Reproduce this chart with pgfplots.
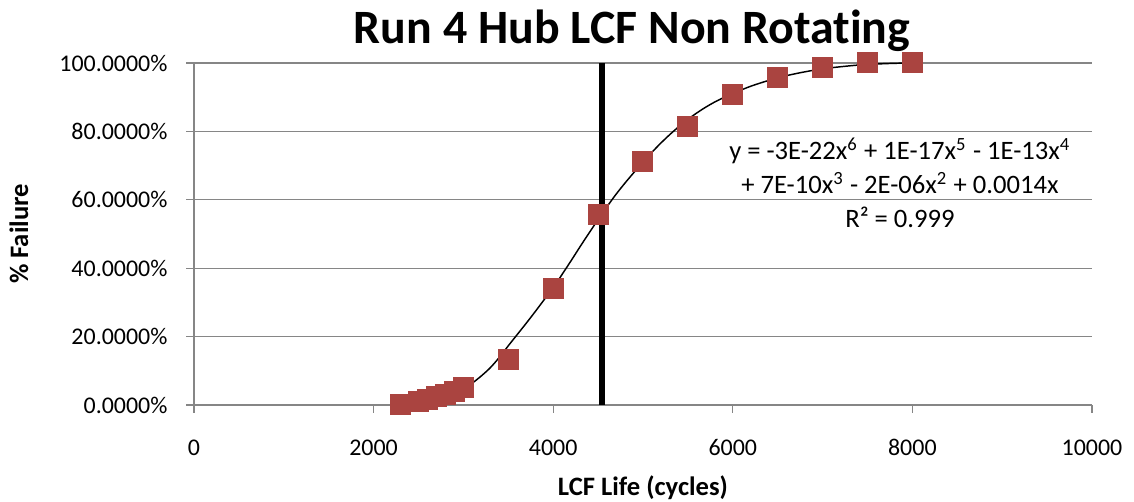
\documentclass[border=0pt]{standalone}
\usepackage{pgfplots}
\pgfplotsset{compat=1.18}
\usepackage{fontspec}
\setmainfont{Carlito}[Ligatures=NoCommon]
\definecolor{mk}{RGB}{170,68,64}
\definecolor{gridgray}{RGB}{134,134,134}
\begin{document}
\begin{tikzpicture}
\path[use as bounding box] (-72.94pt,-36.47pt) rectangle (353.46pt,152.28pt);
\begin{axis}[
  at={(0pt,0pt)}, anchor=south west,
  scale only axis, width=337.65pt, height=128.59pt,
  xmin=0, xmax=10000, ymin=0, ymax=100,
  clip=false,
  scaled x ticks=false, scaled y ticks=false,
  axis lines*=left,
  axis line style={gridgray, line width=0.5pt, -},
  tick align=outside, major tick length=3pt,
  tick style={gridgray, line width=0.5pt},
  ymajorgrids, grid style={gridgray, line width=0.5pt},
  xtick={0,2000,4000,6000,8000,10000},
  xticklabels={0,2000,4000,6000,8000,10000},
  ytick={0,20,40,60,80,100},
  yticklabels={0.0000\%,20.0000\%,40.0000\%,60.0000\%,80.0000\%,100.0000\%},
  ticklabel style={font=\fontsize{9}{11}\selectfont, text=black},
  yticklabel style={inner sep=0pt, xshift=-6.78pt},
  xticklabel style={inner sep=0pt, anchor=north, yshift=-9.8pt},
  xlabel={LCF Life (cycles)},
  ylabel={\% Failure},
  xlabel style={at={(axis description cs:0.5,-0.2427)}, anchor=center, font=\fontsize{10}{12}\selectfont\bfseries},
  ylabel style={at={(axis description cs:-0.1949,0.5)}, anchor=center, font=\fontsize{10}{12}\selectfont\bfseries},
  every axis title shift=0pt,
  title={Run 4 Hub LCF Non Rotating},
  title style={at={(axis description cs:0.4878,1.0556)}, anchor=base, inner sep=0pt, font=\fontsize{18}{22}\selectfont\bfseries},
]
% vertical reference line
\addplot[black, line width=2.3pt, forget plot] coordinates {(4540,0) (4540,100)};
% data points
\addplot[only marks, mark=square*, mark size=3.76pt, mark options={fill=mk, draw=mk, line width=0pt}] coordinates {
(2300,0) (2500,1.0) (2600,1.7) (2700,2.4) (2800,3.2) (2900,3.8) (3000,5.0)
(3500,13.4) (4000,34.1) (4500,55.8) (5000,71.3) (5500,81.4) (6000,90.8)
(6500,95.9) (7000,98.7) (7500,100) (8000,100)
};
% trendline
\addplot[black, line width=0.55pt, smooth, no markers] coordinates {
(2300,1.3) (2400,0.6) (2500,0.3) (2600,0.4) (2700,0.9) (2800,1.8) (2900,3.0)
(3000,4.6) (3100,6.4) (3200,8.5) (3300,10.9) (3400,13.9) (3500,17.3) (3600,20.6)
(3700,23.9) (3800,27.3) (3900,30.8) (4000,34.3) (4100,38.2) (4200,42.2) (4300,46.3)
(4400,50.3) (4500,54.2) (4600,58.0) (4700,61.6) (4800,64.9) (4900,68.0) (5000,71.0)
(5100,73.9) (5200,76.6) (5300,79.1) (5400,81.4) (5500,83.5) (5600,85.4) (5700,87.1)
(5800,88.6) (5900,89.9) (6000,91.1) (6200,93.2) (6400,94.9) (6600,96.3) (6800,97.4)
(7000,98.3) (7200,98.9) (7400,99.4) (7600,99.7) (7800,99.9) (8000,100.0)
};
\node[align=center, font=\fontsize{10}{12.7}\selectfont, inner sep=0pt] at (axis cs:7862,65)
 {y = -3E-22x\textsuperscript{6} + 1E-17x\textsuperscript{5} - 1E-13x\textsuperscript{4}\\
  + 7E-10x\textsuperscript{3} - 2E-06x\textsuperscript{2} + 0.0014x\\
  R² = 0.999};
\end{axis}
\end{tikzpicture}
\end{document}
